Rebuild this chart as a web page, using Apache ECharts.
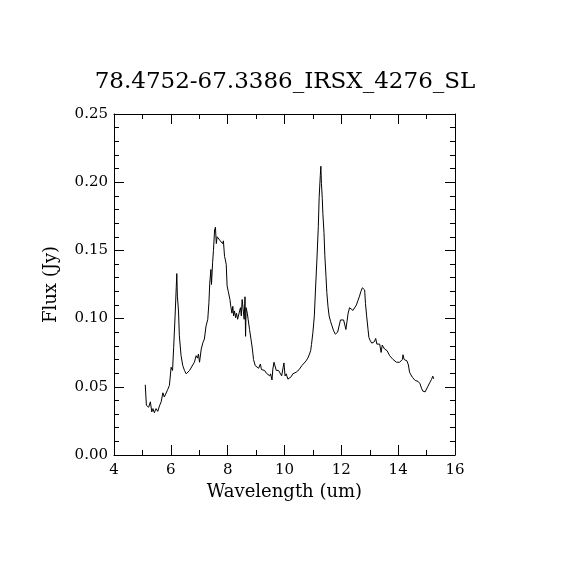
<!DOCTYPE html>
<html>
<head>
    <meta charset="utf-8">
    <title>78.4752-67.3386_IRSX_4276_SL</title>
    <script src="https://cdn.jsdelivr.net/npm/echarts@6/dist/echarts.min.js"></script>
    <style>
        html, body { margin: 0; padding: 0; background: #fff; }
        #main { width: 570px; height: 570px; }
    </style>
</head>
<body>
<div id="main"></div>
<script type="text/javascript">
    // spectrum
    var wavelength = [
        5.10, 5.14, 5.22, 5.28, 5.33, 5.37, 5.42, 5.48, 5.54, 5.60, 5.66, 5.72, 5.77, 5.83, 5.89, 5.95,
        6.01, 6.06, 6.10, 6.15, 6.19, 6.21, 6.23, 6.27, 6.30, 6.36, 6.42, 6.48, 6.54, 6.60, 6.66, 6.71,
        6.77, 6.83, 6.89, 6.94, 6.97, 7.01, 7.07, 7.13, 7.18, 7.24, 7.30, 7.34, 7.37, 7.41, 7.43, 7.47,
        7.50, 7.54, 7.57, 7.60, 7.63, 7.67, 7.70, 7.74, 7.78, 7.82, 7.85, 7.89, 7.92, 7.95, 7.98, 8.02,
        8.05, 8.08, 8.11, 8.15, 8.18, 8.21, 8.24, 8.28, 8.31, 8.35, 8.38, 8.42, 8.45, 8.48, 8.51, 8.55,
        8.58, 8.61, 8.63, 8.65, 8.69, 8.72, 8.77, 8.82, 8.87, 8.91, 8.97, 9.03, 9.09, 9.15, 9.19, 9.24,
        9.30, 9.36, 9.41, 9.48, 9.51, 9.56, 9.59, 9.63, 9.67, 9.71, 9.79, 9.85, 9.90, 9.95, 9.98, 10.02,
        10.06, 10.12, 10.18, 10.24, 10.29, 10.41, 10.51, 10.61, 10.68, 10.76, 10.82, 10.88, 10.92, 10.95,
        11.00, 11.05, 11.09, 11.14, 11.19, 11.22, 11.26, 11.28, 11.30, 11.33, 11.35, 11.39, 11.42, 11.46,
        11.49, 11.53, 11.57, 11.62, 11.67, 11.73, 11.79, 11.82, 11.87, 11.93, 11.97, 12.03, 12.08, 12.13,
        12.16, 12.20, 12.24, 12.29, 12.35, 12.41, 12.47, 12.53, 12.58, 12.64, 12.69, 12.74, 12.78, 12.82,
        12.85, 12.89, 12.94, 12.97, 13.02, 13.07, 13.11, 13.16, 13.21, 13.25, 13.30, 13.35, 13.40, 13.44,
        13.49, 13.52, 13.57, 13.61, 13.65, 13.70, 13.76, 13.82, 13.88, 13.94, 13.99, 14.05, 14.11, 14.15,
        14.17, 14.21, 14.25, 14.31, 14.36, 14.40, 14.45, 14.50, 14.55, 14.60, 14.65, 14.70, 14.73, 14.77,
        14.82, 14.87, 14.95, 14.99, 15.05, 15.11, 15.17, 15.22, 15.25
    ];
    var flux = [
        0.0515, 0.0364, 0.0350, 0.0390, 0.0316, 0.0340, 0.0310, 0.0340, 0.0320, 0.0360, 0.0390, 0.0456, 0.0425, 0.0437, 0.0480, 0.0510,
        0.0643, 0.0620, 0.0790, 0.1020, 0.1226, 0.1330, 0.1165, 0.1056, 0.0874, 0.0728, 0.0655, 0.0620, 0.0595, 0.0587, 0.0620, 0.0630,
        0.0660, 0.0680, 0.0728, 0.0710, 0.0740, 0.0680, 0.0777, 0.0825, 0.0850, 0.0947, 0.0995, 0.1117, 0.1260, 0.1360, 0.1250, 0.1410,
        0.1500, 0.1650, 0.1670, 0.1550, 0.1600, 0.1590, 0.1600, 0.1570, 0.1580, 0.1550, 0.1570, 0.1456, 0.1430, 0.1396, 0.1240, 0.1200,
        0.1190, 0.1140, 0.1090, 0.1040, 0.1090, 0.1020, 0.1056, 0.1007, 0.1040, 0.0995, 0.1007, 0.1056, 0.1080, 0.1020, 0.1140, 0.1150,
        0.0995, 0.1160, 0.0870, 0.1080, 0.1040, 0.0995, 0.0920, 0.0850, 0.0777, 0.0700, 0.0655, 0.0643, 0.0636, 0.0667, 0.0626, 0.0620,
        0.0620, 0.0600, 0.0610, 0.0580, 0.0595, 0.0550, 0.0630, 0.0680, 0.0680, 0.0620, 0.0620, 0.0610, 0.0580, 0.0640, 0.0675, 0.0580,
        0.0595, 0.0556, 0.0570, 0.0575, 0.0595, 0.0607, 0.0625, 0.0655, 0.0667, 0.0690, 0.0710, 0.0740, 0.0765, 0.0810,
        0.0900, 0.1020, 0.1210, 0.1430, 0.1675, 0.1890, 0.2050, 0.2117, 0.1990, 0.1880, 0.1770, 0.1630, 0.1460, 0.1310,
        0.1190, 0.1090, 0.1020, 0.0980, 0.0947, 0.0910, 0.0886, 0.0874, 0.0900, 0.0910, 0.0990, 0.1000, 0.0990, 0.0947,
        0.0920, 0.0980, 0.1040, 0.1080, 0.1068, 0.1060, 0.1070, 0.1100, 0.1130, 0.1165, 0.1200, 0.1226, 0.1240, 0.1210,
        0.1110, 0.1020, 0.0920, 0.0862, 0.0837, 0.0820, 0.0813, 0.0830, 0.0854, 0.0813, 0.0800, 0.0813, 0.0752, 0.0806,
        0.0800, 0.0777, 0.0780, 0.0765, 0.0752, 0.0728, 0.0716, 0.0700, 0.0690, 0.0680, 0.0672, 0.0680, 0.0680, 0.0700,
        0.0735, 0.0700, 0.0690, 0.0690, 0.0660, 0.0607, 0.0587, 0.0570, 0.0558, 0.0546, 0.0534, 0.0540, 0.0550, 0.0522,
        0.0490, 0.0468, 0.0463, 0.0473, 0.0505, 0.0530, 0.0553, 0.0578, 0.0558
    ];
    var titletxt = '78.4752-67.3386_IRSX_4276_SL';

    var points = [];
    for (var i = 0; i < wavelength.length; i++) {
        points.push([wavelength[i], flux[i]]);
    }

    var serif = 'DejaVu Serif';
    var xlab = { fontFamily: serif, fontSize: 15, color: '#000', margin: 8 };
    var ylab = {
        fontFamily: serif, fontSize: 15, color: '#000', margin: 6,
        formatter: function (v) { return v.toFixed(2); }
    };
    var line = { show: true, onZero: false, lineStyle: { color: '#000', width: 1 } };
    var tick = { show: true, inside: true, length: 10, lineStyle: { color: '#000', width: 1 } };

    var myChart = echarts.init(document.getElementById('main'), null, { renderer: 'canvas' });
    var option = {
        backgroundColor: '#fff',
        animation: false,
        title: {
            text: titletxt,
            left: 'center',
            top: 66,
            textStyle: { fontFamily: serif, fontSize: 23, fontWeight: 'normal', color: '#000' }
        },
        grid: { left: 114, right: 115, top: 114, bottom: 115, containLabel: false },
        xAxis: [
            {
                type: 'value', min: 4, max: 16, interval: 2,
                name: 'Wavelength (um)', nameLocation: 'middle', nameGap: 26,
                nameTextStyle: { fontFamily: serif, fontSize: 18, color: '#000' },
                axisLine: line, axisTick: tick,
                minorTick: { show: true, splitNumber: 2, length: 5, lineStyle: { color: '#000' } },
                axisLabel: xlab, splitLine: { show: false }
            },
            {
                type: 'value', min: 4, max: 16, interval: 2, position: 'top',
                axisLine: line, axisTick: tick,
                minorTick: { show: true, splitNumber: 2, length: 5, lineStyle: { color: '#000' } },
                axisLabel: { show: false }, splitLine: { show: false }
            }
        ],
        yAxis: [
            {
                type: 'value', min: 0, max: 0.25, interval: 0.05,
                name: 'Flux (Jy)', nameLocation: 'middle', nameGap: 54,
                nameTextStyle: { fontFamily: serif, fontSize: 18, color: '#000' },
                axisLine: line, axisTick: tick,
                minorTick: { show: true, splitNumber: 5, length: 5, lineStyle: { color: '#000' } },
                axisLabel: ylab, splitLine: { show: false }
            },
            {
                type: 'value', min: 0, max: 0.25, interval: 0.05, position: 'right',
                axisLine: line, axisTick: tick,
                minorTick: { show: true, splitNumber: 5, length: 5, lineStyle: { color: '#000' } },
                axisLabel: { show: false }, splitLine: { show: false }
            }
        ],
        series: [
            {
                name: 'flux',
                type: 'line',
                xAxisIndex: 0,
                yAxisIndex: 0,
                data: points,
                showSymbol: false,
                symbol: 'none',
                lineStyle: { color: '#000', width: 1 }
            }
        ]
    };
    myChart.setOption(option);
</script>
</body>
</html>
